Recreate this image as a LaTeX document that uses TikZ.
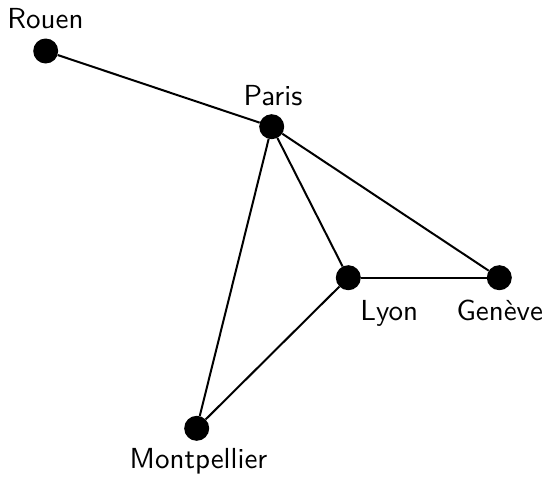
\documentclass[tikz,border=0pt]{standalone}
\usepackage{fontspec}
\newcommand{\bigsans}[1]{\scalebox{2.9}{\fontsize{10}{12}\selectfont\sffamily #1}}
\begin{document}
\begin{tikzpicture}[x=1pt,y=-1pt,
  city/.style={circle,fill=black,draw=none,minimum size=25pt,inner sep=0pt},
  lbl/.style={anchor=base,inner sep=0pt},
  road/.style={line width=2pt,black}]
\useasboundingbox (0,0) rectangle (545,477);
\node[city] (rouen) at (45.7,51) {};
\node[city] (paris) at (271.7,126.7) {};
\node[city] (lyon) at (348.3,277.7) {};
\node[city] (geneve) at (499.3,277.7) {};
\node[city] (montpellier) at (196.7,428.3) {};
\node[lbl] (rouenl) at (45.5,28) {\bigsans{Rouen}};
\node[lbl] (parisl) at (273,105) {\bigsans{Paris}};
\node[lbl] (lyonl) at (389.3,320) {\bigsans{Lyon}};
\node[lbl] (genevel) at (499.7,320) {\bigsans{Genève}};
\node[lbl] (montpellierl) at (198.5,468) {\bigsans{Montpellier}};
\draw[road] (rouen) -- (paris);
\draw[road] (paris) -- (lyon);
\draw[road] (paris) -- (geneve);
\draw[road] (paris) -- (montpellier);
\draw[road] (lyon) -- (geneve);
\draw[road] (lyon) -- (montpellier);
\end{tikzpicture}
\end{document}
